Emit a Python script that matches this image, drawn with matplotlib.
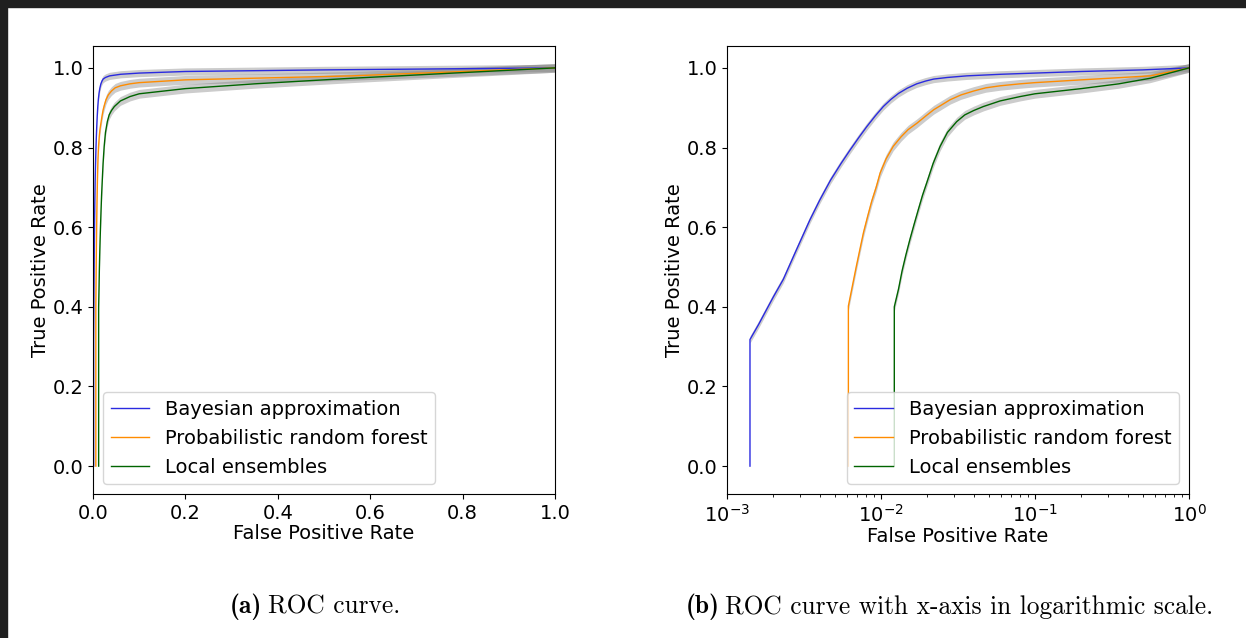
import matplotlib.pyplot as plt
from matplotlib.patches import Rectangle

# mean ROC points (fpr, tpr)
bayes_fpr = [0.00141, 0.00141, 0.0016, 0.0018, 0.002, 0.00232, 0.0028, 0.00346,
             0.004, 0.0047, 0.0055, 0.0063, 0.0072, 0.0081, 0.0092, 0.01035,
             0.0116, 0.013, 0.0148, 0.01706, 0.0195, 0.022, 0.027, 0.036,
             0.06, 0.1, 0.2, 0.5, 1.0]
bayes_tpr = [0.0, 0.318, 0.355, 0.392, 0.425, 0.469, 0.54, 0.619,
             0.668, 0.718, 0.760, 0.794, 0.826, 0.853, 0.880, 0.903,
             0.921, 0.936, 0.949, 0.960, 0.967, 0.972, 0.976, 0.980,
             0.984, 0.987, 0.991, 0.995, 1.0]

prf_fpr = [0.00614, 0.00614, 0.0065, 0.0069, 0.0073, 0.00769, 0.0082, 0.0087,
           0.0093, 0.00987, 0.0108, 0.012, 0.0135, 0.015, 0.0171, 0.0195,
           0.022, 0.025, 0.0281, 0.033, 0.04, 0.048, 0.0593, 0.08, 0.1,
           0.2, 0.56, 1.0]
prf_tpr = [0.0, 0.402, 0.45, 0.50, 0.545, 0.586, 0.628, 0.665,
           0.70, 0.736, 0.772, 0.803, 0.827, 0.845, 0.861, 0.879,
           0.895, 0.908, 0.920, 0.932, 0.942, 0.950, 0.955, 0.960, 0.963,
           0.970, 0.980, 1.0]

le_fpr = [0.0122, 0.0122, 0.013, 0.0137, 0.0145, 0.0154, 0.0164, 0.0175,
          0.0186, 0.0198, 0.0218, 0.0242, 0.027, 0.031, 0.035, 0.040,
          0.0462, 0.0593, 0.08, 0.1, 0.2, 0.35, 0.56, 1.0]
le_tpr = [0.0, 0.40, 0.445, 0.49, 0.53, 0.569, 0.607, 0.645,
          0.68, 0.711, 0.76, 0.803, 0.838, 0.865, 0.882, 0.893,
          0.903, 0.917, 0.928, 0.935, 0.948, 0.960, 0.974, 1.0]

stds = [0.009, 0.011, 0.011]
labels = ['Bayesian approximation', 'Probabilistic random forest', 'Local ensembles']
colors = ['#2a2ae0', 'darkorange', 'darkgreen']

series = [(bayes_fpr, bayes_tpr), (prf_fpr, prf_tpr), (le_fpr, le_tpr)]

fig = plt.figure(figsize=(12.46, 6.38), dpi=100)
ax1 = fig.add_axes([93/1246, 1-494/638, 462/1246, 448/638])
ax2 = fig.add_axes([727/1246, 1-494/638, 462/1246, 448/638])

for ax in (ax1, ax2):
    for (fpr, tpr), s, lab, c in zip(series, stds, labels, colors):
        lo = [t - s for t in tpr]
        hi = [t + s for t in tpr]
        ax.fill_between(fpr, lo, hi, color='grey', alpha=0.4, lw=0)
        ax.plot(fpr, tpr, color=c, lw=1, label=lab)
    ax.set_ylim(-0.07, 1.055)
    ax.set_yticks([0.0, 0.2, 0.4, 0.6, 0.8, 1.0])
    ax.tick_params(labelsize=14)
    ax.set_xlabel('False Positive Rate', fontsize=14, labelpad=1)
    ax.set_ylabel('True Positive Rate', fontsize=14, labelpad=2)

ax1.set_xlim(0, 1.0)
ax1.legend(loc='lower left', fontsize=14)

ax2.set_xscale('log')
ax2.set_xlim(1e-3, 1.0)
ax2.legend(loc='lower right', fontsize=14)

# captions
yc = 1 - 607/638
fs = 18.3
fig.text(262/1246, yc, '(a)', family='cmb10', fontsize=fs, ha='right', va='center')
fig.text(268/1246, yc, 'ROC curve.', family='cmr10', fontsize=fs, ha='left', va='center')
fig.text(720/1246, yc, '(b)', family='cmb10', fontsize=fs, ha='right', va='center')
fig.text(725/1246, yc, 'ROC curve with x-axis in logarithmic scale.', family='cmr10',
         fontsize=fs, ha='left', va='center')

# dark screenshot frame
fig.patches.append(Rectangle((0, 1-7/638), 1, 7/638, transform=fig.transFigure,
                             color='#1f1f1f', zorder=10))
fig.patches.append(Rectangle((0, 0), 7/1246, 1, transform=fig.transFigure,
                             color='#1f1f1f', zorder=10))

fig.savefig('out.png', dpi=100)
